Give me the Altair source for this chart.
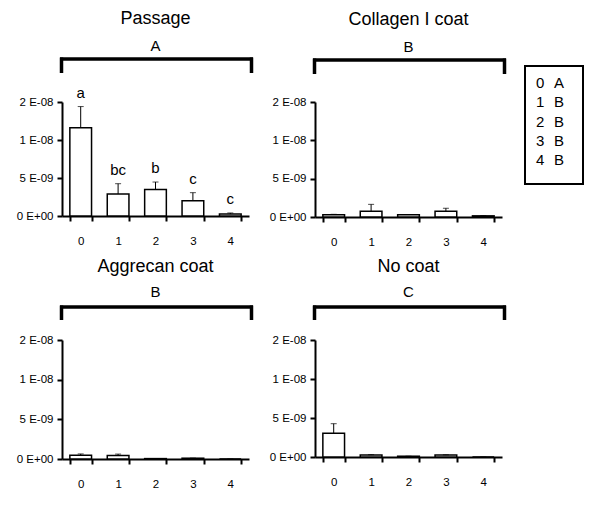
import altair as alt
import pandas as pd

FONT = "Liberation Sans, Arial, sans-serif"

passages = ["0", "1", "2", "3", "4"]

panel_titles = ["Passage", "Collagen I coat", "Aggrecan coat", "No coat"]
panel_groups = ["A", "B", "B", "C"]

passage_mean = [1.16e-8, 2.9e-9, 3.5e-9, 2.0e-9, 2.5e-10]
passage_err = [2.8e-9, 1.35e-9, 0.97e-9, 1.07e-9, 1.5e-10]
passage_letters = ["a", "bc", "b", "c", "c"]

collagen_mean = [3.0e-10, 7.5e-10, 3.0e-10, 7.5e-10, 1.5e-10]
collagen_err = [0.5e-10, 9.0e-10, 0.3e-10, 3.9e-10, 0.2e-10]

aggrecan_mean = [4.6e-10, 4.5e-10, 0.5e-10, 1.0e-10, 0.0]
aggrecan_err = [1.8e-10, 1.7e-10, 0.0, 0.1e-10, 0.0]

nocoat_mean = [3.05e-9, 2.5e-10, 1.0e-10, 2.5e-10, 0.0]
nocoat_err = [1.22e-9, 0.5e-10, 0.0, 0.3e-10, 0.0]

no_letters = ["", "", "", "", ""]

y_ticks = [0, 5e-9, 1e-8, 1.5e-8]
y_tick_labels = ["0 E+00", "5 E-09", "1 E-08", "2 E-08"]

legend_passages = ["0", "1", "2", "3", "4"]
legend_groups = ["A", "B", "B", "B", "B"]

label_expr = "{}[indexof({}, datum.value)]".format(
    "[" + ",".join("'" + s + "'" for s in y_tick_labels) + "]",
    "[" + ",".join(repr(v) for v in y_ticks) + "]",
)

W = 187


def panel(title, group, mean, err, letters, height, brk_y, brk_drop, letter_y,
          title_offset, legend=False):
    df = pd.DataFrame({
        "p": passages,
        "mean": mean,
        "top": [m + e for m, e in zip(mean, err)],
        "letter": letters,
    })
    x = alt.X("p:N", sort=passages,
              scale=alt.Scale(paddingInner=0.42, paddingOuter=0.21),
              axis=alt.Axis(title=None, labelAngle=0, tickBand="extent",
                            labelPadding=14, tickSize=5, tickWidth=2,
                            domainWidth=2, labelFontSize=11.5))
    y_scale = alt.Scale(domain=[0, 1.5e-8], nice=False, zero=True)
    y = alt.Y("mean:Q", scale=y_scale,
              axis=alt.Axis(title=None, values=y_ticks, labelExpr=label_expr,
                            tickCount=10, grid=False, tickSize=5, tickWidth=2,
                            domainWidth=2, labelPadding=4, labelFontSize=11.5))
    base = alt.Chart(df)
    bars = base.mark_bar(fill="white", stroke="black", strokeWidth=1.5).encode(x=x, y=y)
    rules = base.mark_rule(color="black", strokeWidth=1).encode(
        x=x, y=alt.Y("mean:Q"), y2="top:Q")
    caps = base.mark_tick(color="black", size=6, thickness=1,
                          orient="horizontal").encode(x=x, y=alt.Y("top:Q"))
    lbls = base.mark_text(fontSize=15, font=FONT, dy=-9,
                          baseline="alphabetic").encode(
        x=x, y=alt.Y("top:Q"), text="letter:N")

    gdf = pd.DataFrame({"g": [group]})
    gbase = alt.Chart(gdf)
    hline = gbase.mark_rule(color="black", strokeWidth=3.5).encode(
        x=alt.value(-2), x2=alt.value(W + 4), y=alt.value(brk_y))
    lv = gbase.mark_rule(color="black", strokeWidth=3.5).encode(
        x=alt.value(-0.5), y=alt.value(brk_y - 1.5), y2=alt.value(brk_y + brk_drop))
    rv = gbase.mark_rule(color="black", strokeWidth=3.5).encode(
        x=alt.value(W + 2.5), y=alt.value(brk_y - 1.5), y2=alt.value(brk_y + brk_drop))
    gtext = gbase.mark_text(fontSize=15, font=FONT, baseline="alphabetic").encode(
        x=alt.value(W / 2), y=alt.value(letter_y), text="g:N")

    layers = [bars, rules, caps, lbls, hline, lv, rv, gtext]

    if legend:
        ldf = pd.DataFrame({"d": ["\n".join(legend_passages)],
                            "g": ["\n".join(legend_groups)]})
        lbase = alt.Chart(ldf)
        box = lbase.mark_rect(fill="white", stroke="black", strokeWidth=2).encode(
            x=alt.value(210), x2=alt.value(268), y=alt.value(-36), y2=alt.value(82))
        dcol = lbase.mark_text(fontSize=15, font=FONT, align="left",
                               baseline="alphabetic", lineBreak="\n",
                               lineHeight=19.3).encode(
            x=alt.value(221), y=alt.value(-14), text="d:N")
        gcol = lbase.mark_text(fontSize=15, font=FONT, align="left",
                               baseline="alphabetic", lineBreak="\n",
                               lineHeight=19.3).encode(
            x=alt.value(239), y=alt.value(-14), text="g:N")
        layers += [box, dcol, gcol]

    return alt.layer(*layers).properties(
        width=W, height=height,
        title=alt.TitleParams(text=title, anchor="middle", fontSize=18,
                              font=FONT, fontWeight="normal", offset=title_offset,
                              color="black"),
    )


p1 = panel(panel_titles[0], panel_groups[0], passage_mean, passage_err,
           passage_letters, 114, -43, 14, -51, 11)
p2 = panel(panel_titles[1], panel_groups[1], collagen_mean, collagen_err,
           no_letters, 115, -42, 14, -50, 11, legend=True)
p3 = panel(panel_titles[2], panel_groups[2], aggrecan_mean, aggrecan_err,
           no_letters, 119, -33, 13, -43, 9)
p4 = panel(panel_titles[3], panel_groups[3], nocoat_mean, nocoat_err,
           no_letters, 117, -33, 13, -43, 9)

top = alt.hconcat(p1, p2, spacing=14)
bottom = alt.hconcat(p3, p4, spacing=14)

chart = alt.vconcat(top, bottom, spacing=10).properties(
    padding={"left": 8, "top": 2, "right": 0, "bottom": 0}
).configure_view(strokeWidth=0).configure_axis(
    labelFont=FONT, labelColor="black", domainColor="black", tickColor="black"
).configure_concat(spacing=14)

chart.save("out.html", embed_options={"renderer": "svg", "actions": False})
